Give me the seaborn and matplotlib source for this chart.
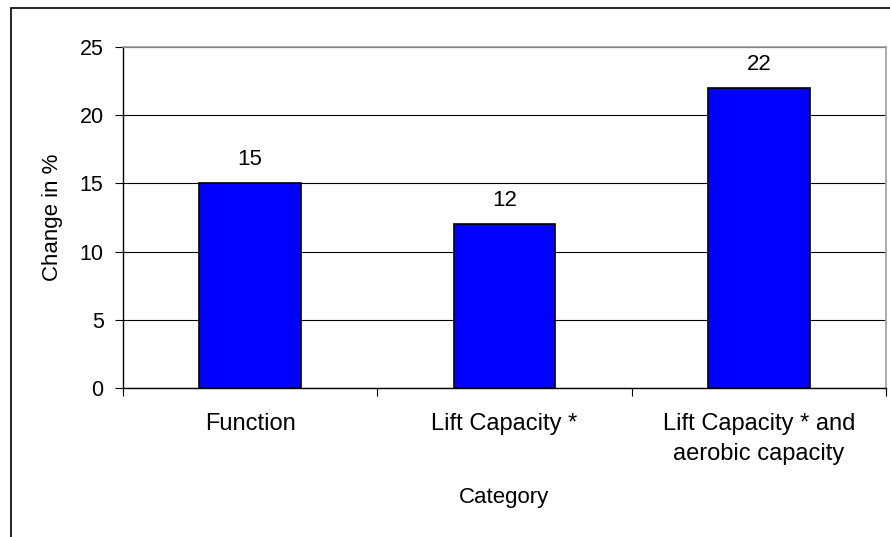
import matplotlib
matplotlib.use("Agg")
import matplotlib.pyplot as plt
import matplotlib.patches as mpatches
import pandas as pd
import seaborn as sns

categories = ["Function", "Lift Capacity *", "Lift Capacity * and\naerobic capacity"]
changes = [15, 12, 22]
y_ticks = [0, 5, 10, 15, 20, 25]

df = pd.DataFrame({"Category": categories, "Change": changes})

sns.set_theme(style="white")
plt.rcParams['font.family'] = ['Liberation Sans', 'DejaVu Sans']
plt.rcParams['text.color'] = 'black'
plt.rcParams['xtick.color'] = 'black'
plt.rcParams['ytick.color'] = 'black'
plt.rcParams['axes.labelcolor'] = 'black'

fig = plt.figure(figsize=(8.9, 5.37), dpi=100)
ax = fig.add_axes([123 / 890, 1 - 388 / 537, (886 - 123) / 890, (388 - 47) / 537])

sns.barplot(data=df, x="Category", y="Change", color="#0000FF", width=0.4,
            edgecolor="black", linewidth=1.2, saturation=1, ax=ax, zorder=3)

# horizontal gridlines in black, like the old excel look
ax.set_ylim(0, 25)
ax.set_yticks(y_ticks)
ax.yaxis.grid(True, color="black", linewidth=0.8, zorder=0)
ax.set_axisbelow(True)
ax.set_xlim(-0.5, 2.5)

# category boundary ticks on x axis, labels sit between them
ax.set_xticks([-0.5, 0.5, 1.5, 2.5], minor=False)
ax.set_xticklabels([])
ax.set_xticks([0, 1, 2], minor=True)
ax.set_xticklabels(categories, minor=True, fontsize=17, linespacing=1.45)
ax.tick_params(axis="x", which="major", direction="out", length=6, width=0.8, color="black", bottom=True)
ax.tick_params(axis="x", which="minor", length=0, pad=18)
ax.tick_params(axis="y", direction="out", length=6, width=0.8, color="black", left=True, labelsize=15.5, pad=8)

for sp in ["left", "bottom"]:
    ax.spines[sp].set_color("black")
    ax.spines[sp].set_linewidth(1.0)
for sp in ["top", "right"]:
    ax.spines[sp].set_color("#a0a0a0")
    ax.spines[sp].set_linewidth(1.2)

for i, v in enumerate(changes):
    ax.text(i, v + 1.32, str(v), ha="center", va="baseline", fontsize=16, color="black")

ax.set_xlabel("Category", fontsize=16, labelpad=16)
ax.set_ylabel("Change in %", fontsize=16, labelpad=12)

# outer chart border
fig.patches.append(mpatches.Rectangle((11 / 890, -0.1), 1.2, 1 - 8 / 537 + 0.1,
                                      transform=fig.transFigure, fill=False,
                                      edgecolor="black", linewidth=1.2))

fig.savefig("out.png", dpi=100)
